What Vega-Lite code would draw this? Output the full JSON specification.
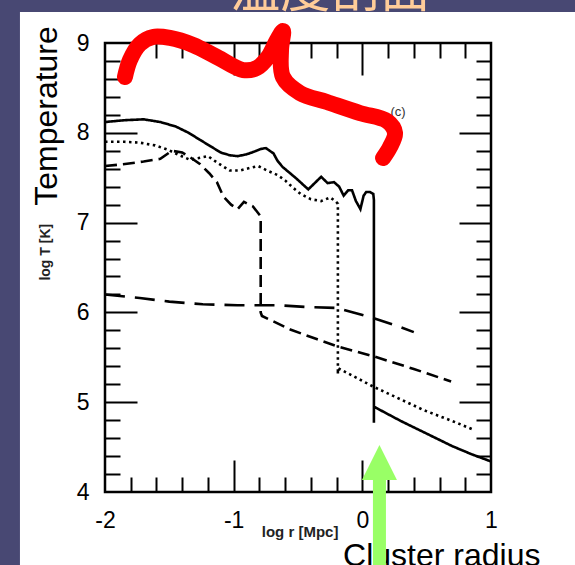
{
  "$schema": "https://vega.github.io/schema/vega-lite/v6.json",
  "width": 386,
  "height": 449,
  "autosize": {"type": "none"},
  "padding": {"left": 105, "top": 43, "right": 84, "bottom": 73},
  "background": "white",
  "config": {"view": {"stroke": "black", "strokeWidth": 2.5}, "font": "Liberation Sans"},
  "resolve": {"axis": {"x": "independent", "y": "independent"}},
  "datasets": {
    "dark": [
      {"x": -3, "x2": -2.661, "y": 2.9, "y2": 9.8},
      {"x": -3, "x2": 2, "y": 9.345, "y2": 9.8}
    ],
    "title": [{"x": -0.25, "y": 9.406, "t": "温度剖面"}],
    "curves": [
      {"s": "solid", "i": 0, "x": -2.0, "y": 8.12},
      {"s": "solid", "i": 1, "x": -1.85, "y": 8.14},
      {"s": "solid", "i": 2, "x": -1.7, "y": 8.15},
      {"s": "solid", "i": 3, "x": -1.57, "y": 8.12},
      {"s": "solid", "i": 4, "x": -1.45, "y": 8.07},
      {"s": "solid", "i": 5, "x": -1.35, "y": 8.0},
      {"s": "solid", "i": 6, "x": -1.26, "y": 7.92},
      {"s": "solid", "i": 7, "x": -1.18, "y": 7.85},
      {"s": "solid", "i": 8, "x": -1.1, "y": 7.78},
      {"s": "solid", "i": 9, "x": -1.03, "y": 7.75},
      {"s": "solid", "i": 10, "x": -0.97, "y": 7.74},
      {"s": "solid", "i": 11, "x": -0.9, "y": 7.76},
      {"s": "solid", "i": 12, "x": -0.84, "y": 7.79},
      {"s": "solid", "i": 13, "x": -0.79, "y": 7.82},
      {"s": "solid", "i": 14, "x": -0.75, "y": 7.83},
      {"s": "solid", "i": 15, "x": -0.72, "y": 7.8},
      {"s": "solid", "i": 16, "x": -0.69, "y": 7.77},
      {"s": "solid", "i": 17, "x": -0.66, "y": 7.69},
      {"s": "solid", "i": 18, "x": -0.62, "y": 7.62},
      {"s": "solid", "i": 19, "x": -0.52, "y": 7.5},
      {"s": "solid", "i": 20, "x": -0.42, "y": 7.37},
      {"s": "solid", "i": 21, "x": -0.37, "y": 7.44},
      {"s": "solid", "i": 22, "x": -0.32, "y": 7.51},
      {"s": "solid", "i": 23, "x": -0.27, "y": 7.44},
      {"s": "solid", "i": 24, "x": -0.22, "y": 7.45},
      {"s": "solid", "i": 25, "x": -0.18, "y": 7.4},
      {"s": "solid", "i": 26, "x": -0.145, "y": 7.3},
      {"s": "solid", "i": 27, "x": -0.11, "y": 7.36},
      {"s": "solid", "i": 28, "x": -0.08, "y": 7.36},
      {"s": "solid", "i": 29, "x": -0.05, "y": 7.24},
      {"s": "solid", "i": 30, "x": -0.015, "y": 7.15},
      {"s": "solid", "i": 31, "x": 0.01, "y": 7.3},
      {"s": "solid", "i": 32, "x": 0.03, "y": 7.34},
      {"s": "solid", "i": 33, "x": 0.06, "y": 7.34},
      {"s": "solid", "i": 34, "x": 0.085, "y": 7.32},
      {"s": "solid", "i": 35, "x": 0.09, "y": 7.25},
      {"s": "solid", "i": 36, "x": 0.09, "y": 4.77},
      {"s": "solid", "i": 37, "x": 0.09, "y": 4.95},
      {"s": "solid", "i": 38, "x": 0.3, "y": 4.79},
      {"s": "solid", "i": 39, "x": 0.5, "y": 4.65},
      {"s": "solid", "i": 40, "x": 0.7, "y": 4.51},
      {"s": "solid", "i": 41, "x": 0.85, "y": 4.42},
      {"s": "solid", "i": 42, "x": 1.0, "y": 4.34},
      {"s": "dotted", "i": 0, "x": -2.0, "y": 7.9},
      {"s": "dotted", "i": 1, "x": -1.85, "y": 7.9},
      {"s": "dotted", "i": 2, "x": -1.73, "y": 7.89},
      {"s": "dotted", "i": 3, "x": -1.61, "y": 7.86},
      {"s": "dotted", "i": 4, "x": -1.51, "y": 7.81},
      {"s": "dotted", "i": 5, "x": -1.42, "y": 7.75},
      {"s": "dotted", "i": 6, "x": -1.34, "y": 7.7},
      {"s": "dotted", "i": 7, "x": -1.27, "y": 7.72},
      {"s": "dotted", "i": 8, "x": -1.2, "y": 7.74},
      {"s": "dotted", "i": 9, "x": -1.12, "y": 7.66},
      {"s": "dotted", "i": 10, "x": -1.03, "y": 7.58},
      {"s": "dotted", "i": 11, "x": -0.95, "y": 7.58},
      {"s": "dotted", "i": 12, "x": -0.87, "y": 7.61},
      {"s": "dotted", "i": 13, "x": -0.81, "y": 7.63},
      {"s": "dotted", "i": 14, "x": -0.74, "y": 7.58},
      {"s": "dotted", "i": 15, "x": -0.66, "y": 7.53},
      {"s": "dotted", "i": 16, "x": -0.6, "y": 7.47},
      {"s": "dotted", "i": 17, "x": -0.54, "y": 7.39},
      {"s": "dotted", "i": 18, "x": -0.48, "y": 7.32},
      {"s": "dotted", "i": 19, "x": -0.4, "y": 7.26},
      {"s": "dotted", "i": 20, "x": -0.32, "y": 7.24},
      {"s": "dotted", "i": 21, "x": -0.25, "y": 7.28},
      {"s": "dotted", "i": 22, "x": -0.21, "y": 7.24},
      {"s": "dotted", "i": 23, "x": -0.19, "y": 7.21},
      {"s": "dotted", "i": 24, "x": -0.19, "y": 5.31},
      {"s": "dotted", "i": 25, "x": -0.19, "y": 5.38},
      {"s": "dotted", "i": 26, "x": 0.09, "y": 5.17},
      {"s": "dotted", "i": 27, "x": 0.3, "y": 5.03},
      {"s": "dotted", "i": 28, "x": 0.48, "y": 4.91},
      {"s": "dotted", "i": 29, "x": 0.7, "y": 4.79},
      {"s": "dotted", "i": 30, "x": 0.87, "y": 4.69},
      {"s": "dashed", "i": 0, "x": -2.0, "y": 7.63},
      {"s": "dashed", "i": 1, "x": -1.86, "y": 7.65},
      {"s": "dashed", "i": 2, "x": -1.7, "y": 7.68},
      {"s": "dashed", "i": 3, "x": -1.57, "y": 7.71},
      {"s": "dashed", "i": 4, "x": -1.48, "y": 7.8},
      {"s": "dashed", "i": 5, "x": -1.4, "y": 7.78},
      {"s": "dashed", "i": 6, "x": -1.34, "y": 7.73},
      {"s": "dashed", "i": 7, "x": -1.26, "y": 7.65},
      {"s": "dashed", "i": 8, "x": -1.19, "y": 7.55},
      {"s": "dashed", "i": 9, "x": -1.13, "y": 7.45},
      {"s": "dashed", "i": 10, "x": -1.08, "y": 7.29},
      {"s": "dashed", "i": 11, "x": -1.02, "y": 7.2},
      {"s": "dashed", "i": 12, "x": -0.97, "y": 7.15},
      {"s": "dashed", "i": 13, "x": -0.92, "y": 7.23},
      {"s": "dashed", "i": 14, "x": -0.85, "y": 7.18},
      {"s": "dashed", "i": 15, "x": -0.79, "y": 7.07},
      {"s": "dashed", "i": 16, "x": -0.79, "y": 6.0},
      {"s": "dashed", "i": 17, "x": -0.78, "y": 5.96},
      {"s": "dashed", "i": 18, "x": -0.56, "y": 5.81},
      {"s": "dashed", "i": 19, "x": -0.35, "y": 5.7},
      {"s": "dashed", "i": 20, "x": -0.19, "y": 5.62},
      {"s": "dashed", "i": 21, "x": 0.09, "y": 5.51},
      {"s": "dashed", "i": 22, "x": 0.4, "y": 5.37},
      {"s": "dashed", "i": 23, "x": 0.69, "y": 5.23},
      {"s": "long", "i": 0, "x": -2.0, "y": 6.2},
      {"s": "long", "i": 1, "x": -1.73, "y": 6.16},
      {"s": "long", "i": 2, "x": -1.5, "y": 6.12},
      {"s": "long", "i": 3, "x": -1.24, "y": 6.09},
      {"s": "long", "i": 4, "x": -0.97, "y": 6.08},
      {"s": "long", "i": 5, "x": -0.66, "y": 6.08},
      {"s": "long", "i": 6, "x": -0.43, "y": 6.06},
      {"s": "long", "i": 7, "x": -0.2, "y": 6.05},
      {"s": "long", "i": 8, "x": -0.07, "y": 6.0},
      {"s": "long", "i": 9, "x": 0.08, "y": 5.94},
      {"s": "long", "i": 10, "x": 0.29, "y": 5.84},
      {"s": "long", "i": 11, "x": 0.4, "y": 5.78}
    ],
    "brace": [
      {"i": 0, "x": -1.845, "y": 8.621},
      {"i": 1, "x": -1.806, "y": 8.811},
      {"i": 2, "x": -1.728, "y": 8.989},
      {"i": 3, "x": -1.627, "y": 9.067},
      {"i": 4, "x": -1.495, "y": 9.056},
      {"i": 5, "x": -1.316, "y": 8.978},
      {"i": 6, "x": -1.13, "y": 8.844},
      {"i": 7, "x": -0.927, "y": 8.699},
      {"i": 8, "x": -0.819, "y": 8.722},
      {"i": 9, "x": -0.733, "y": 8.844},
      {"i": 10, "x": -0.663, "y": 9.033},
      {"i": 11, "x": -0.617, "y": 9.134},
      {"i": 12, "x": -0.632, "y": 8.922},
      {"i": 13, "x": -0.617, "y": 8.621},
      {"i": 14, "x": -0.484, "y": 8.443},
      {"i": 15, "x": -0.275, "y": 8.343},
      {"i": 16, "x": -0.018, "y": 8.22},
      {"i": 17, "x": 0.192, "y": 8.131},
      {"i": 18, "x": 0.254, "y": 7.998},
      {"i": 19, "x": 0.215, "y": 7.842},
      {"i": 20, "x": 0.161, "y": 7.719}
    ],
    "label_c": [{"x": 0.277, "y": 8.187, "t": "(c)"}],
    "ylab_big": [{"x": -2.373, "y": 8.187, "t": "Temperature"}],
    "ylab_small": [{"x": -2.427, "y": 6.67, "t": "log T [K]"}],
    "xlab_small": [{"x": -0.484, "y": 3.5, "t": "log r [Mpc]"}],
    "cluster": [{"x": -0.15, "y": 3.176, "t": "Cluster radius"}],
    "arrow": [{"x": 0.133, "y": 2.9, "y2": 4.16, "tip": 4.329}]
  },
  "layer": [
    {
      "data": {"name": "dark"},
      "mark": {"type": "rect", "color": "#484873"},
      "encoding": {
        "x": {"field": "x", "type": "quantitative", "scale": {"domain": [-2, 1], "nice": false, "zero": false},
              "axis": {"orient": "top", "values": [-1, 0], "labels": false, "domain": false, "grid": false, "title": null, "tickSize": -32, "tickWidth": 2, "tickColor": "black"}},
        "x2": {"field": "x2"},
        "y": {"field": "y", "type": "quantitative", "scale": {"domain": [4, 9], "nice": false, "zero": false},
              "axis": {"orient": "right", "values": [5, 6, 7, 8], "labels": false, "domain": false, "grid": false, "title": null, "tickSize": -32, "tickWidth": 2, "tickColor": "black"}},
        "y2": {"field": "y2"}
      }
    },
    {
      "data": {"name": "title"},
      "mark": {"type": "text", "font": "Noto Sans CJK SC", "fontSize": 50, "color": "#FFCC99", "align": "center", "baseline": "alphabetic"},
      "encoding": {
        "x": {"field": "x", "type": "quantitative",
              "axis": {"orient": "top", "values": [-1.8, -1.6, -1.4, -1.2, -0.8, -0.6, -0.4, -0.2, 0.2, 0.4, 0.6, 0.8], "labels": false, "domain": false, "grid": false, "title": null, "tickSize": -15, "tickWidth": 2, "tickColor": "black"}},
        "y": {"field": "y", "type": "quantitative",
              "axis": {"orient": "right", "values": [4.2, 4.4, 4.6, 4.8, 5.2, 5.4, 5.6, 5.8, 6.2, 6.4, 6.6, 6.8, 7.2, 7.4, 7.6, 7.8, 8.2, 8.4, 8.6, 8.8], "labels": false, "domain": false, "grid": false, "title": null, "tickSize": -15, "tickWidth": 2, "tickColor": "black"}},
        "text": {"field": "t"}
      }
    },
    {
      "data": {"name": "curves"},
      "mark": {"type": "line", "color": "black", "strokeWidth": 2.6},
      "encoding": {
        "x": {"field": "x", "type": "quantitative",
              "axis": {"orient": "bottom", "values": [-2, -1, 0, 1], "ticks": false, "tickSize": 0, "domain": false, "grid": false, "title": null, "labelFontSize": 23, "labelColor": "black", "labelFont": "Liberation Sans", "labelPadding": 17, "labelFlush": false, "labelOverlap": false, "labelBound": false, "labelExpr": "datum.value < 0 ? '-' + abs(datum.value) : '' + datum.value"}},
        "y": {"field": "y", "type": "quantitative",
              "axis": {"orient": "left", "values": [4, 5, 6, 7, 8, 9], "ticks": false, "tickSize": 0, "domain": false, "grid": false, "title": null, "labelFontSize": 23, "labelColor": "black", "labelFont": "Liberation Sans", "labelPadding": 16, "labelOverlap": false, "labelBound": false, "labelExpr": "'' + datum.value"}},
        "order": {"field": "i", "type": "quantitative"},
        "strokeDash": {"field": "s", "type": "nominal", "legend": null,
                       "scale": {"domain": ["solid", "dotted", "dashed", "long"], "range": [[1, 0], [2.5, 3.5], [12, 6], [20, 10]]}}
      }
    },
    {
      "data": {"name": "label_c"},
      "mark": {"type": "text", "fontSize": 13, "color": "#333333", "align": "center", "baseline": "alphabetic"},
      "encoding": {
        "x": {"field": "x", "type": "quantitative",
              "axis": {"orient": "bottom", "values": [-1.8, -1.6, -1.4, -1.2, -0.8, -0.6, -0.4, -0.2, 0.2, 0.4, 0.6, 0.8], "labels": false, "domain": false, "grid": false, "title": null, "tickSize": -15, "tickWidth": 2, "tickColor": "black"}},
        "y": {"field": "y", "type": "quantitative",
              "axis": {"orient": "left", "values": [4.2, 4.4, 4.6, 4.8, 5.2, 5.4, 5.6, 5.8, 6.2, 6.4, 6.6, 6.8, 7.2, 7.4, 7.6, 7.8, 8.2, 8.4, 8.6, 8.8], "labels": false, "domain": false, "grid": false, "title": null, "tickSize": -15, "tickWidth": 2, "tickColor": "black"}},
        "text": {"field": "t"}
      }
    },
    {
      "data": {"name": "brace"},
      "mark": {"type": "line", "color": "#FF0000", "strokeWidth": 16, "strokeCap": "round", "strokeJoin": "round", "interpolate": "catmull-rom"},
      "encoding": {
        "x": {"field": "x", "type": "quantitative",
              "axis": {"orient": "bottom", "values": [-1, 0], "labels": false, "domain": false, "grid": false, "title": null, "tickSize": -32, "tickWidth": 2, "tickColor": "black"}},
        "y": {"field": "y", "type": "quantitative",
              "axis": {"orient": "left", "values": [5, 6, 7, 8], "labels": false, "domain": false, "grid": false, "title": null, "tickSize": -32, "tickWidth": 2, "tickColor": "black"}},
        "order": {"field": "i", "type": "quantitative"}
      }
    },
    {
      "data": {"name": "ylab_big"},
      "mark": {"type": "text", "fontSize": 32, "color": "black", "angle": 270, "align": "center", "baseline": "alphabetic"},
      "encoding": {
        "x": {"field": "x", "type": "quantitative", "axis": null},
        "y": {"field": "y", "type": "quantitative", "axis": null},
        "text": {"field": "t"}
      }
    },
    {
      "data": {"name": "ylab_small"},
      "mark": {"type": "text", "fontSize": 14, "fontWeight": "bold", "color": "#222222", "angle": 270, "align": "center", "baseline": "alphabetic"},
      "encoding": {
        "x": {"field": "x", "type": "quantitative", "axis": null},
        "y": {"field": "y", "type": "quantitative", "axis": null},
        "text": {"field": "t"}
      }
    },
    {
      "data": {"name": "xlab_small"},
      "mark": {"type": "text", "fontSize": 15, "fontWeight": "bold", "color": "#222222", "align": "center", "baseline": "alphabetic"},
      "encoding": {
        "x": {"field": "x", "type": "quantitative", "axis": null},
        "y": {"field": "y", "type": "quantitative", "axis": null},
        "text": {"field": "t"}
      }
    },
    {
      "data": {"name": "cluster"},
      "mark": {"type": "text", "fontSize": 32, "color": "black", "align": "left", "baseline": "alphabetic"},
      "encoding": {
        "x": {"field": "x", "type": "quantitative", "axis": null},
        "y": {"field": "y", "type": "quantitative", "axis": null},
        "text": {"field": "t"}
      }
    },
    {
      "data": {"name": "arrow"},
      "mark": {"type": "rule", "color": "#99FF66", "strokeWidth": 13},
      "encoding": {
        "x": {"field": "x", "type": "quantitative", "axis": null},
        "y": {"field": "y", "type": "quantitative", "axis": null},
        "y2": {"field": "y2"}
      }
    },
    {
      "data": {"name": "arrow"},
      "mark": {"type": "point", "shape": "M-1,1L0,-1L1,1Z", "size": 1225, "filled": true, "opacity": 1, "color": "#99FF66", "strokeWidth": 0},
      "encoding": {
        "x": {"field": "x", "type": "quantitative", "axis": null},
        "y": {"field": "tip", "type": "quantitative", "axis": null}
      }
    }
  ]
}
